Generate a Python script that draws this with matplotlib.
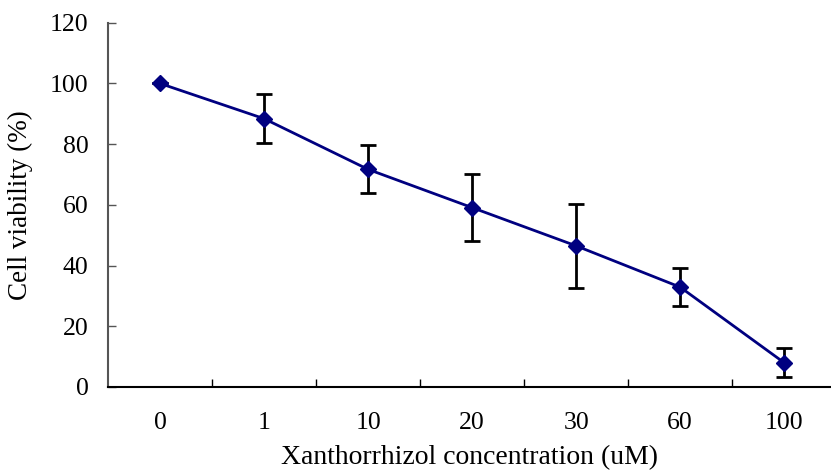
import matplotlib
matplotlib.use("Agg")
import matplotlib.pyplot as plt

# concentrations (uM) and viability (%)
conc = ["0", "1", "10", "20", "30", "60", "100"]
viab = [100, 88.4, 71.7, 59.1, 46.5, 32.9, 8.0]
err = [0, 8.0, 7.9, 11.0, 13.9, 6.2, 4.7]

plt.rcParams["font.family"] = ["Liberation Serif", "DejaVu Serif"]

fig = plt.figure(figsize=(8.31, 4.70), dpi=100)
ax = fig.add_axes([0.130, 0.1766, 0.870, 0.775])

x = list(range(len(conc)))
ax.errorbar(x, viab, yerr=err, fmt="none", ecolor="black", elinewidth=2,
            capsize=6, capthick=2, zorder=2)
ax.plot(x, viab, color="#000080", lw=2, marker="D", markersize=8, zorder=3)

ax.set_xlim(-0.5, 6.45)
ax.set_ylim(0, 120)
ax.set_yticks(range(0, 121, 20))
ax.set_xticks(x)
ax.set_xticklabels(conc)
ax.set_xticks([i + 0.5 for i in range(6)], minor=True)
ax.tick_params(axis="x", which="major", length=0, pad=18, labelsize=18.5)
ax.tick_params(axis="x", which="minor", direction="in", length=6, width=1)
ax.tick_params(axis="y", direction="in", length=6, width=1, pad=14, labelsize=18.5,
               color="#555555")

ax.spines["top"].set_visible(False)
ax.spines["right"].set_visible(False)
ax.spines["left"].set_color("#555555")
ax.spines["left"].set_linewidth(1.5)
ax.spines["bottom"].set_linewidth(1.5)

ax.set_xlabel("Xanthorrhizol concentration (uM)", fontsize=20, labelpad=8)
ax.set_ylabel("Cell viability (%)", fontsize=19.5, labelpad=12)

fig.savefig("out.png", dpi=100)
